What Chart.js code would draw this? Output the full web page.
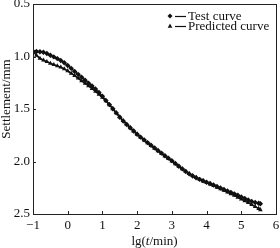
<!DOCTYPE html>
<html>
<head>
<meta charset="utf-8">
<script src="https://cdn.jsdelivr.net/npm/chart.js@4"></script>
<style>
html,body{margin:0;padding:0;background:#fff;}
#wrap{width:280px;height:248px;position:relative;}
</style>
</head>
<body>
<div id="wrap"><canvas id="c" width="280" height="248"></canvas></div>
<script>
const lgTime = [-1.0,-0.9,-0.8,-0.7,-0.6,-0.5,-0.4,-0.3,-0.2,-0.1,0.0,0.1,0.2,0.3,0.4,0.5,0.6,0.7,0.8,0.9,1.0,1.1,1.2,1.3,1.4,1.5,1.6,1.7,1.8,1.9,2.0,2.1,2.2,2.3,2.4,2.5,2.6,2.7,2.8,2.9,3.0,3.1,3.2,3.3,3.4,3.5,3.6,3.7,3.8,3.9,4.0,4.1,4.2,4.3,4.4,4.5,4.6,4.7,4.8,4.9,5.0,5.1,5.2,5.3,5.4,5.5,5.55];
const testSettlement = [0.950,0.952,0.955,0.960,0.972,0.988,1.004,1.020,1.038,1.060,1.085,1.113,1.143,1.170,1.198,1.226,1.254,1.280,1.310,1.343,1.378,1.418,1.458,1.498,1.537,1.578,1.615,1.647,1.678,1.710,1.740,1.768,1.794,1.820,1.845,1.870,1.895,1.920,1.945,1.968,1.992,2.018,2.045,2.070,2.095,2.118,2.138,2.155,2.170,2.184,2.197,2.210,2.224,2.238,2.252,2.266,2.280,2.294,2.308,2.322,2.337,2.352,2.366,2.380,2.390,2.398,2.402];
const predictedSettlement = [0.950,0.990,1.018,1.035,1.050,1.065,1.078,1.090,1.102,1.118,1.138,1.160,1.183,1.207,1.232,1.256,1.280,1.306,1.333,1.360,1.390,1.423,1.460,1.498,1.538,1.576,1.612,1.646,1.679,1.710,1.741,1.770,1.797,1.824,1.850,1.875,1.900,1.925,1.948,1.972,1.996,2.022,2.047,2.071,2.094,2.115,2.135,2.153,2.170,2.186,2.201,2.216,2.231,2.246,2.261,2.276,2.292,2.308,2.324,2.341,2.358,2.375,2.393,2.412,2.430,2.448,2.460];
const seriesNames = ['Test curve','Predicted curve'];
const xTitleParts = [['lg(', false], ['t', true], ['/min)', false]];
const yTitle = 'Settlement/mm';

const FONT = "'Liberation Serif','Times New Roman',serif";

const frameTicks = {
  id: 'frameTicks',
  afterDraw(chart) {
    const ctx = chart.ctx, a = chart.chartArea;
    const xs = chart.scales.x, ys = chart.scales.y;
    ctx.save();
    ctx.strokeStyle = '#222';
    ctx.lineWidth = 1;
    ctx.strokeRect(Math.round(a.left)+0.5, Math.round(a.top)+0.5, Math.round(a.right-a.left), Math.round(a.bottom-a.top));
    ctx.beginPath();
    xs.ticks.forEach(t => {
      const px = Math.round(xs.getPixelForValue(t.value)) + 0.5;
      ctx.moveTo(px, a.bottom); ctx.lineTo(px, a.bottom - 3);
    });
    ys.ticks.forEach(t => {
      const py = Math.round(ys.getPixelForValue(t.value)) + 0.5;
      ctx.moveTo(a.left, py); ctx.lineTo(a.left + 3, py);
    });
    ctx.stroke();

    // y title
    ctx.fillStyle = '#111';
    ctx.font = '13px ' + FONT;
    ctx.textAlign = 'center';
    ctx.textBaseline = 'middle';
    ctx.save();
    ctx.translate(7, (a.top + a.bottom) / 2 - 10);
    ctx.rotate(-Math.PI / 2);
    ctx.fillText(yTitle, 0, 0);
    ctx.restore();

    // x title with italic t
    ctx.textAlign = 'left';
    ctx.textBaseline = 'alphabetic';
    let total = 0;
    const widths = xTitleParts.map(([s, it]) => {
      ctx.font = (it ? 'italic ' : '') + '13px ' + FONT;
      const w = ctx.measureText(s).width; total += w; return w;
    });
    let x = (a.left + a.right) / 2 - total / 2;
    const yb = 245;
    xTitleParts.forEach(([s, it], i) => {
      ctx.font = (it ? 'italic ' : '') + '13px ' + FONT;
      ctx.fillText(s, x, yb); x += widths[i];
    });

    // legend
    const rows = [16, 26];
    chart.data.datasets.forEach((ds, i) => {
      const y = rows[i];
      ctx.strokeStyle = '#111'; ctx.lineWidth = 1.2;
      ctx.beginPath(); ctx.moveTo(175, y + 0.5); ctx.lineTo(186, y + 0.5); ctx.stroke();
      ctx.fillStyle = '#111';
      ctx.beginPath();
      if (ds.pointStyle === 'rectRot') {
        ctx.moveTo(170, y - 2.5); ctx.lineTo(172.5, y); ctx.lineTo(170, y + 2.5); ctx.lineTo(167.5, y);
      } else {
        ctx.moveTo(170, y - 2.5); ctx.lineTo(172.3, y + 1.8); ctx.lineTo(167.7, y + 1.8);
      }
      ctx.closePath(); ctx.fill();
      ctx.font = '13px ' + FONT;
      ctx.textBaseline = 'middle';
      ctx.fillText(ds.label, 188, y + 0.5);
    });
    ctx.restore();
  }
};

new Chart(document.getElementById('c'), {
  type: 'line',
  data: {
    datasets: [
      {
        label: seriesNames[0],
        data: lgTime.map((x, i) => ({x, y: testSettlement[i]})),
        borderColor: '#111', backgroundColor: '#111', borderWidth: 1.6,
        pointStyle: 'rectRot', pointRadius: 2.7, pointBorderWidth: 0,
        tension: 0, fill: false
      },
      {
        label: seriesNames[1],
        data: lgTime.map((x, i) => ({x, y: predictedSettlement[i]})),
        borderColor: '#111', backgroundColor: '#111', borderWidth: 1.6,
        pointStyle: 'triangle', pointRadius: 2.7, pointBorderWidth: 0,
        tension: 0, fill: false
      }
    ]
  },
  options: {
    responsive: false,
    animation: false,
    devicePixelRatio: 1,
    layout: { padding: { top: 4, right: 4, left: 0, bottom: 0 } },
    plugins: { legend: { display: false }, tooltip: { enabled: false } },
    scales: {
      x: {
        type: 'linear', min: -1, max: 6,
        grid: { display: false, drawTicks: false },
        border: { display: false },
        ticks: { stepSize: 1, padding: 4, color: '#111', font: { family: FONT, size: 13 }, maxRotation: 0,
                 callback: v => (v < 0 ? '\u2212' + Math.abs(v) : String(v)) },
        afterFit: s => { s.height = 34; s.paddingLeft = 0; s.paddingRight = 0; }
      },
      y: {
        type: 'linear', min: 0.5, max: 2.5, reverse: true,
        grid: { display: false, drawTicks: false },
        border: { display: false },
        ticks: { stepSize: 0.5, padding: 3, color: '#111', font: { family: FONT, size: 13 },
                 callback: v => Number(v).toFixed(1) },
        afterFit: s => { s.width = 33; s.paddingTop = 0; s.paddingBottom = 0; }
      }
    }
  },
  plugins: [frameTicks]
});
</script>
</body>
</html>
